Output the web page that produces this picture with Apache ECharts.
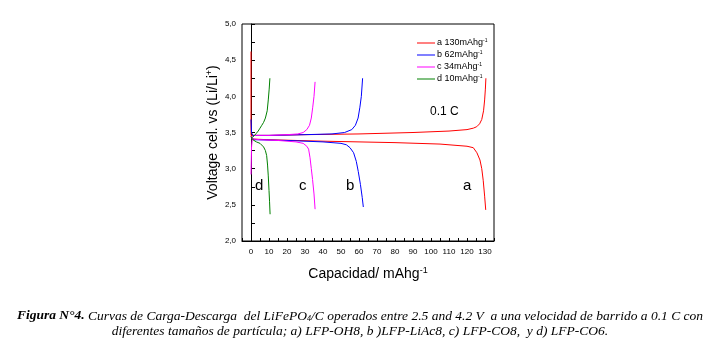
<!DOCTYPE html>
<html><head><meta charset="utf-8">
<script src="https://cdn.jsdelivr.net/npm/echarts@6/dist/echarts.min.js"></script>
<style>html,body{margin:0;padding:0;background:#fff}#c{width:720px;height:343px}</style>
</head><body><div id="c"></div><script>
// ---- data ----
const legendNames = ['a 130mAhg', 'b 62mAhg', 'c 34mAhg', 'd 10mAhg'];
const xTicksMin = -5, xTicksMax = 135;
const yTicksMin = 2.0, yTicksMax = 5.0;

const chargeA = [[0,4.62],[0,3.46],[1,3.45],[10,3.46],[30,3.47],[60,3.48],[90,3.50],[110,3.52],[120,3.54],[123.5,3.56],[125.4,3.58],[127,3.62],[128.2,3.68],[129.2,3.80],[129.8,3.95],[130.2,4.10],[130.5,4.25]];
const dischargeA = [[0,3.45],[0.5,3.41],[10,3.40],[40,3.38],[80,3.36],[105,3.34],[115,3.32],[120,3.31],[123.5,3.29],[125.5,3.22],[127.2,3.12],[128.2,3.00],[129,2.84],[129.8,2.62],[130.4,2.43]];

const chargeB = [[0,3.68],[0.3,3.50],[1,3.46],[10,3.46],[30,3.47],[45,3.48],[52,3.50],[56,3.54],[58,3.60],[59.5,3.70],[60.5,3.85],[61.3,4.00],[62,4.25]];
const dischargeB = [[0,3.43],[2,3.40],[20,3.39],[40,3.37],[50,3.35],[53,3.33],[55,3.29],[57,3.22],[58.5,3.10],[59.6,2.96],[60.8,2.78],[61.8,2.60],[62.4,2.47]];

const chargeC = [[0,2.92],[0.3,3.30],[0.8,3.43],[2,3.46],[10,3.46],[20,3.47],[26,3.48],[29,3.50],[31,3.54],[32.5,3.60],[33.5,3.70],[34.3,3.85],[35,4.00],[35.6,4.20]];
const dischargeC = [[0,3.45],[1,3.41],[5,3.40],[15,3.39],[25,3.37],[29,3.35],[31,3.31],[32,3.27],[32.8,3.15],[33.5,3.00],[34.2,2.85],[35,2.65],[35.6,2.44]];

const chargeD = [[0,3.42],[1,3.44],[2,3.46],[3,3.49],[4,3.52],[5,3.56],[6,3.60],[7,3.64],[8,3.70],[9,3.80],[9.6,3.95],[10.1,4.10],[10.5,4.25]];
const dischargeD = [[0,3.44],[1,3.40],[2,3.38],[3,3.37],[4,3.36],[5,3.35],[6,3.33],[7,3.30],[8,3.25],[8.7,3.18],[9.2,3.05],[9.6,2.90],[10,2.70],[10.3,2.55],[10.6,2.37]];

const curveLabels = ['d', 'c', 'b', 'a'];
const rateLabel = '0.1 C';

// ---- chart ----
const chart = echarts.init(document.getElementById('c'), null, {renderer: 'canvas'});
const colors = ['#ff0000', '#0000ff', '#ff00ff', '#008000'];
const curves = [[chargeA, dischargeA], [chargeB, dischargeB], [chargeC, dischargeC], [chargeD, dischargeD]];
const series = [];
curves.forEach((pair, i) => {
  pair.forEach(d => series.push({
    name: legendNames[i], type: 'line', data: d, symbol: 'none', smooth: false,
    lineStyle: {color: colors[i], width: 1}, itemStyle: {color: colors[i]}, animation: false
  }));
});
const F = 'Arial, "Liberation Sans", sans-serif';
const SERIF = '"Liberation Serif", "Times New Roman", serif';

chart.setOption({
  animation: false,
  grid: {left: 242, right: 226, top: 24, bottom: 102, show: true, borderColor: '#000', borderWidth: 1},
  legend: {
    data: legendNames, orient: 'vertical', left: 412, top: 33, itemWidth: 18, itemHeight: 1, itemGap: 2,
    icon: 'rect', selectedMode: false,
    formatter: n => '{t|' + n + '}{s|-1}',
    textStyle: {fontFamily: F, fontSize: 9, color: '#000', padding: [0, 0, 0, -3],
      rich: {t: {fontFamily: F, fontSize: 9, color: '#000', lineHeight: 10}, s: {fontFamily: F, fontSize: 5, color: '#000', verticalAlign: 'top', lineHeight: 10, padding: [0,0,5,0]}}}
  },
  xAxis: {
    type: 'value', min: xTicksMin, max: xTicksMax, interval: 5,
    axisLine: {show: true, lineStyle: {color: '#000', width: 1}},
    axisTick: {show: true, inside: true, length: 3, lineStyle: {color: '#000'}},
    splitLine: {show: false},
    axisLabel: {fontFamily: F, fontSize: 8, color: '#000', margin: 7,
      formatter: v => (v >= 0 && v % 10 === 0) ? String(v) : ''},
    name: '{t|Capacidad/ mAhg}{s|-1}', nameLocation: 'middle', nameGap: 25,
    nameTextStyle: {fontFamily: F, fontSize: 14, color: '#000',
      rich: {t: {fontFamily: F, fontSize: 14, color: '#000'}, s: {fontFamily: F, fontSize: 9, color: '#000', verticalAlign: 'top', padding: [0,0,8,0]}}}
  },
  yAxis: {
    type: 'value', min: yTicksMin, max: yTicksMax, interval: 0.25,
    axisLine: {show: true, lineStyle: {color: '#000', width: 1}},
    axisTick: {show: true, inside: true, length: 4, lineStyle: {color: '#000'}},
    splitLine: {show: false},
    axisLabel: {fontFamily: F, fontSize: 8, color: '#000', margin: 6,
      formatter: v => (Math.abs(v * 2 - Math.round(v * 2)) < 1e-6) ? v.toFixed(1).replace('.', ',') : ''},
    name: '{t|Voltage cel. vs (Li/Li}{s|+}{t|)}', nameLocation: 'middle', nameGap: 20, nameRotate: 90,
    nameTextStyle: {fontFamily: F, fontSize: 14, color: '#000',
      rich: {t: {fontFamily: F, fontSize: 14, color: '#000'}, s: {fontFamily: F, fontSize: 9, color: '#000', verticalAlign: 'top', padding: [0,0,8,0]}}}
  },
  graphic: [
    {type: 'text', left: 255, top: 178, style: {text: curveLabels[0], font: '15px ' + F, fill: '#000'}},
    {type: 'text', left: 299, top: 178, style: {text: curveLabels[1], font: '15px ' + F, fill: '#000'}},
    {type: 'text', left: 346, top: 178, style: {text: curveLabels[2], font: '15px ' + F, fill: '#000'}},
    {type: 'text', left: 463, top: 178, style: {text: curveLabels[3], font: '15px ' + F, fill: '#000'}},
    {type: 'text', left: 430, top: 106, style: {text: rateLabel, font: '12px ' + F, fill: '#000'}},
    {type: 'text', left: 'center', top: 309, style: {
      text: '{b|Figura N°4.}{i| Curvas de Carga-Descarga  del LiFePO}{sub|4}{i|/C operados entre 2.5 and 4.2 V  a una velocidad de barrido a 0.1 C con}',
      rich: {b: {font: 'italic bold 13.5px ' + SERIF, fill: '#000'}, i: {font: 'italic 13.5px ' + SERIF, fill: '#000'}, sub: {font: 'italic 8px ' + SERIF, fill: '#000', verticalAlign: 'bottom', padding: [6,0,0,0]}}
    }},
    {type: 'text', left: 'center', top: 324, style: {
      text: 'diferentes tamaños de partícula; a) LFP-OH8, b )LFP-LiAc8, c) LFP-CO8,  y d) LFP-CO6.',
      font: 'italic 13.5px ' + SERIF, fill: '#000'
    }}
  ],
  series: series
});
</script></body></html>
